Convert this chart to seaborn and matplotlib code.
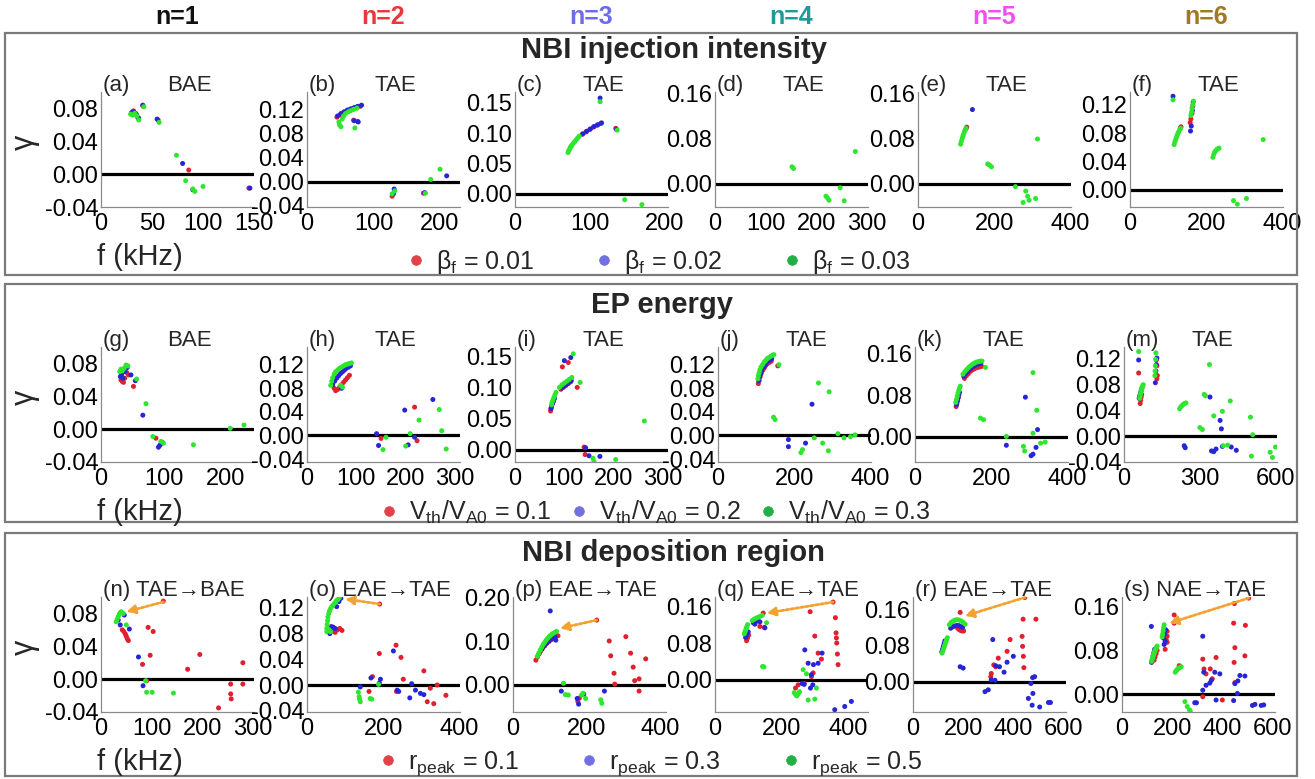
import matplotlib
matplotlib.use("Agg")
import matplotlib.pyplot as plt
import seaborn as sns
import pandas as pd
from matplotlib.patches import Rectangle
from matplotlib.lines import Line2D
from matplotlib.ticker import AutoMinorLocator, FormatStrFormatter

# ---------------- data (f in kHz, gamma) ----------------
# row 1 : NBI injection intensity
A_RED = ([30, 32, 34, 36, 41, 56, 86, 145], [0.075, 0.077, 0.074, 0.069, 0.083, 0.066, 0.005, -0.017])
A_BLUE = ([31, 33, 35, 37, 41, 55, 80, 90, 146], [0.076, 0.074, 0.072, 0.068, 0.084, 0.067, 0.013, -0.019, -0.017])
A_GREEN = ([29, 31, 33, 35, 37, 42, 57, 74, 83, 90, 92, 100],
           [0.073, 0.072, 0.074, 0.071, 0.066, 0.082, 0.063, 0.023, -0.008, -0.018, -0.021, -0.015])
B_RED = ([45, 50, 55, 60, 65, 70, 75, 80, 70, 76, 128, 175],
         [0.108, 0.112, 0.116, 0.119, 0.121, 0.122, 0.124, 0.126, 0.103, 0.101, -0.024, -0.019])
B_BLUE = ([46, 51, 56, 61, 66, 71, 76, 82, 71, 77, 130, 131, 177, 210],
          [0.110, 0.114, 0.117, 0.120, 0.122, 0.124, 0.126, 0.128, 0.102, 0.100, -0.020, -0.012, -0.018, 0.010])
B_GREEN = ([48, 49, 51, 53, 55, 58, 62, 66, 70, 75, 72, 128, 132, 178, 186, 200],
           [0.100, 0.095, 0.092, 0.105, 0.110, 0.114, 0.117, 0.119, 0.121, 0.123, 0.090, -0.020, -0.015, -0.019, 0.004, 0.021])
C_RED = ([90, 95, 100, 105, 110, 115, 135], [0.098, 0.102, 0.106, 0.110, 0.113, 0.116, 0.108])
C_BLUE = ([91, 96, 101, 106, 111, 116, 114, 136], [0.099, 0.103, 0.107, 0.111, 0.114, 0.117, 0.158, 0.106])
C_GREEN = ([71, 72, 73, 74, 75, 76, 78, 80, 82, 84, 86, 114, 137, 147, 170],
           [0.068, 0.071, 0.073, 0.076, 0.078, 0.080, 0.083, 0.086, 0.089, 0.092, 0.095, 0.152, 0.105, -0.010, -0.018])
D_RED = ([], [])
D_BLUE = ([], [])
D_GREEN = ([152, 155, 219, 222, 225, 247, 255, 277], [0.030, 0.027, -0.022, -0.025, -0.029, -0.007, -0.030, 0.057])
E_RED = ([126, 128], [0.097, 0.100])
E_BLUE = ([143], [0.131])
E_GREEN = ([112, 114, 116, 118, 120, 122, 124, 126, 183, 188, 193, 256, 283, 288, 276, 292, 309, 314],
           [0.070, 0.075, 0.080, 0.084, 0.088, 0.092, 0.095, 0.098, 0.035, 0.033, 0.030, -0.005, -0.013, -0.022,
            -0.033, -0.029, -0.026, 0.079])
F_RED = ([132, 134, 158, 160, 163, 165], [0.087, 0.089, 0.095, 0.100, 0.108, 0.118])
F_BLUE = ([113, 159, 161, 164, 166], [0.132, 0.083, 0.090, 0.112, 0.124])
F_GREEN = ([116, 118, 120, 122, 124, 126, 128, 131, 133, 113, 160, 162, 163, 165, 167, 218, 220, 222, 225, 228,
            231, 234, 272, 282, 306, 350],
           [0.064, 0.068, 0.071, 0.074, 0.077, 0.080, 0.082, 0.085, 0.087, 0.127, 0.105, 0.110, 0.115, 0.120, 0.125,
            0.046, 0.050, 0.053, 0.055, 0.057, 0.058, 0.059, -0.015, -0.020, -0.012, 0.071])

# row 2 : EP energy
G_RED = ([32, 34, 36, 38, 41, 44, 52, 88, 94], [0.060, 0.058, 0.057, 0.062, 0.069, 0.066, 0.052, -0.011, -0.020])
G_BLUE = ([31, 33, 35, 38, 42, 48, 55, 67, 92, 95, 98],
          [0.064, 0.066, 0.062, 0.070, 0.075, 0.066, 0.059, 0.017, -0.022, -0.019, -0.016])
G_GREEN = ([30, 32, 34, 37, 40, 43, 57, 72, 83, 96, 100, 148, 207, 229],
           [0.070, 0.073, 0.071, 0.074, 0.078, 0.077, 0.061, 0.031, -0.009, -0.015, -0.017, -0.019, 0.001, 0.005])
H_RED = ([55, 58, 62, 66, 70, 74, 78, 82, 86, 150, 218, 223],
         [0.080, 0.076, 0.078, 0.082, 0.086, 0.090, 0.094, 0.098, 0.102, -0.005, 0.048, -0.009])
H_BLUE = ([52, 56, 60, 64, 68, 72, 76, 80, 84, 88, 70, 141, 145, 198, 218, 205, 255],
          [0.086, 0.092, 0.097, 0.101, 0.105, 0.108, 0.111, 0.114, 0.116, 0.118, 0.080, 0.003, -0.017, 0.043,
           -0.003, -0.016, 0.061])
H_GREEN = ([48, 50, 52, 55, 58, 62, 66, 70, 74, 78, 82, 86, 90, 68, 72, 154, 160, 209, 227, 200, 268, 273, 282],
           [0.085, 0.092, 0.098, 0.104, 0.108, 0.111, 0.114, 0.116, 0.118, 0.120, 0.121, 0.122, 0.123, 0.085, 0.082,
            -0.024, -0.003, 0.003, 0.026, -0.018, 0.044, 0.008, -0.023])
I_RED = ([72, 73, 74, 76, 78, 93, 98, 103, 108, 113, 96, 108, 126, 140, 142],
         [0.062, 0.066, 0.070, 0.074, 0.078, 0.097, 0.100, 0.103, 0.106, 0.109, 0.133, 0.140, 0.100, 0.004, -0.008])
I_BLUE = ([73, 74, 76, 78, 80, 94, 99, 104, 109, 114, 100, 113, 143, 150, 172],
          [0.066, 0.070, 0.074, 0.078, 0.082, 0.099, 0.102, 0.105, 0.108, 0.111, 0.143, 0.148, 0.003, -0.010, -0.011])
I_GREEN = ([74, 75, 77, 79, 81, 83, 90, 95, 100, 105, 110, 115, 118, 132, 158, 160, 204, 262],
           [0.072, 0.076, 0.080, 0.084, 0.088, 0.092, 0.100, 0.104, 0.107, 0.110, 0.113, 0.116, 0.154, 0.108,
            -0.014, -0.019, -0.016, 0.046])
J_RED = ([106, 108, 111, 114, 118, 122, 126, 130, 135, 140, 157],
         [0.088, 0.093, 0.100, 0.106, 0.111, 0.115, 0.119, 0.122, 0.124, 0.126, 0.118])
J_BLUE = ([107, 109, 112, 115, 119, 123, 127, 131, 136, 141, 185, 185, 230, 247],
          [0.093, 0.098, 0.104, 0.110, 0.115, 0.119, 0.123, 0.126, 0.128, 0.130, -0.007, -0.019, -0.013, 0.053])
J_GREEN = ([105, 106, 108, 110, 113, 117, 121, 125, 129, 133, 138, 143, 147, 160, 146, 150, 218, 222, 253, 264,
            275, 292, 290, 315, 331, 348, 360],
           [0.096, 0.101, 0.106, 0.111, 0.116, 0.120, 0.124, 0.127, 0.130, 0.132, 0.134, 0.136, 0.137, 0.120,
            0.031, 0.027, -0.029, -0.024, -0.004, 0.089, -0.013, 0.074, -0.026, 0.003, -0.004, -0.002, 0.001])
K_RED = ([108, 110, 112, 114, 130, 135, 140, 145, 150, 155, 160, 165, 170, 175],
         [0.058, 0.064, 0.070, 0.076, 0.112, 0.117, 0.121, 0.125, 0.128, 0.130, 0.132, 0.133, 0.134, 0.135])
K_BLUE = ([109, 111, 113, 115, 117, 128, 133, 138, 143, 148, 153, 158, 163, 168, 173, 290, 240, 305, 310, 318, 322],
          [0.062, 0.068, 0.074, 0.080, 0.085, 0.116, 0.121, 0.125, 0.129, 0.132, 0.135, 0.137, 0.139, 0.140,
           0.141, 0.076, -0.016, -0.036, -0.033, -0.020, 0.014])
K_GREEN = ([107, 109, 111, 113, 115, 117, 119, 126, 131, 136, 141, 146, 151, 156, 161, 166, 171, 176, 185, 172,
            180, 310, 320, 310, 240, 285, 288, 330, 342],
           [0.066, 0.072, 0.078, 0.084, 0.089, 0.093, 0.097, 0.120, 0.125, 0.129, 0.133, 0.136, 0.139, 0.141,
            0.143, 0.144, 0.145, 0.145, 0.133, 0.036, 0.033, 0.123, 0.051, 0.007, 0.001, -0.018, -0.027, -0.012, -0.010])
M_RED = ([58, 64, 66, 68, 70, 128, 130, 132, 130], [0.097, 0.050, 0.055, 0.060, 0.064, 0.117, 0.108, 0.093, 0.088])
M_BLUE = ([58, 60, 62, 65, 68, 71, 124, 126, 128, 130, 238, 242, 346, 355, 364, 389, 424, 444, 340, 380, 385],
          [0.117, 0.058, 0.062, 0.066, 0.070, 0.074, 0.082, 0.100, 0.110, 0.120, -0.015, -0.018, -0.023, -0.024,
           -0.020, -0.016, -0.017, -0.022, 0.060, 0.024, 0.011])
M_GREEN = ([58, 62, 64, 66, 68, 70, 72, 74, 76, 122, 123, 124, 125, 126, 220, 225, 230, 235, 240, 245, 338, 317, 322,
            300, 310, 355, 389, 420, 500, 509, 392, 410, 504, 578, 587, 599],
           [0.130, 0.058, 0.062, 0.066, 0.069, 0.072, 0.075, 0.077, 0.079, 0.093, 0.100, 0.108, 0.118, 0.128,
            0.042, 0.045, 0.047, 0.049, 0.050, 0.051, 0.110, 0.064, 0.062, 0.013, 0.010, 0.031, 0.038, 0.054,
            0.029, 0.002, -0.015, -0.014, -0.031, -0.025, -0.033, -0.017])

# row 3 : NBI deposition region
N_RED = ([42, 45, 48, 50, 52, 54, 93, 103, 82, 97, 90, 171, 195, 232, 256, 256, 257, 280, 280, 123],
         [0.060, 0.058, 0.055, 0.052, 0.049, 0.047, 0.063, 0.058, 0.018, 0.029, -0.002, 0.012, 0.030, -0.035,
          -0.006, -0.018, -0.024, 0.020, -0.006, 0.095])
N_BLUE = ([34, 38, 46, 56, 74, 83], [0.072, 0.066, 0.078, 0.061, 0.027, -0.008])
N_GREEN = ([30, 32, 34, 36, 38, 40, 44, 50, 88, 90, 101, 143],
           [0.070, 0.073, 0.076, 0.079, 0.081, 0.082, 0.080, 0.066, -0.002, -0.016, -0.016, -0.017])
O_RED = ([68, 74, 80, 86, 92, 191, 163, 172, 190, 234, 247, 253, 235, 307, 316, 333, 324, 342, 365],
         [0.084, 0.082, 0.086, 0.088, 0.085, 0.126, -0.010, 0.013, 0.049, 0.062, 0.043, 0.009, -0.010, 0.022,
          -0.026, -0.029, -0.005, 0.000, -0.016])
O_BLUE = ([60, 64, 69, 74, 78, 84, 89, 140, 168, 190, 193, 227, 237, 241, 270, 275, 285, 298, 307],
          [0.080, 0.091, 0.090, 0.088, 0.122, 0.130, 0.135, -0.003, 0.011, 0.003, 0.009, 0.053, -0.008, -0.010,
           -0.020, 0.002, -0.008, -0.013, -0.015])
O_GREEN = ([52, 52, 53, 54, 55, 57, 59, 62, 65, 69, 73, 77, 81, 85, 58, 62, 135, 137, 140, 138, 166, 170, 188],
           [0.083, 0.088, 0.094, 0.100, 0.106, 0.111, 0.115, 0.119, 0.122, 0.125, 0.128, 0.131, 0.133, 0.136,
            0.086, 0.083, -0.011, -0.018, -0.026, -0.022, -0.021, -0.022, 0.001])
P_RED = ([62, 66, 70, 75, 80, 86, 92, 98, 104, 110, 116, 122, 227, 261, 265, 274, 276, 306, 319, 326, 330, 342,
          342, 360, 176, 180],
         [0.057, 0.064, 0.071, 0.078, 0.084, 0.090, 0.096, 0.100, 0.104, 0.108, 0.111, 0.113, 0.149, 0.101, 0.067,
          0.027, 0.002, 0.111, 0.073, 0.041, 0.010, 0.014, -0.014, 0.060, -0.038, -0.030])
P_BLUE = ([72, 78, 84, 90, 96, 102, 108, 114, 101, 116, 131, 174, 178, 192, 248],
          [0.074, 0.082, 0.089, 0.095, 0.100, 0.105, 0.108, 0.111, 0.170, 0.103, -0.014, -0.031, -0.044, -0.021, -0.014])
P_GREEN = ([66, 70, 74, 78, 82, 86, 90, 94, 98, 102, 106, 110, 114, 118, 137, 142, 150, 186, 190, 197, 238, 241],
           [0.066, 0.073, 0.080, 0.087, 0.093, 0.098, 0.103, 0.107, 0.111, 0.114, 0.117, 0.119, 0.121, 0.123,
            0.004, -0.022, -0.023, -0.023, -0.019, -0.031, -0.034, -0.042])
Q_RED = ([95, 98, 101, 145, 135, 148, 355, 286, 362, 364, 365, 366, 368, 370, 300, 310, 295, 290, 268, 250, 242, 320],
         [0.085, 0.091, 0.097, 0.145, 0.116, 0.114, 0.169, 0.148, 0.135, 0.102, 0.091, 0.080, 0.056, 0.033, 0.095,
          0.058, 0.015, 0.007, -0.008, -0.011, -0.018, 0.045])
Q_BLUE = ([92, 96, 100, 115, 120, 128, 135, 150, 270, 280, 296, 310, 322, 290, 294, 287, 262, 268, 360, 390, 410],
          [0.092, 0.098, 0.104, 0.124, 0.121, 0.128, 0.126, 0.113, 0.065, 0.036, 0.033, 0.036, 0.058, 0.011,
           -0.011, -0.018, -0.008, -0.010, -0.065, -0.058, -0.047])
Q_GREEN = ([88, 90, 92, 94, 96, 98, 112, 118, 124, 130, 136, 142, 155, 143, 147, 238, 242, 246, 250, 254, 280, 300,
            305, 275, 265],
           [0.100, 0.104, 0.108, 0.112, 0.116, 0.120, 0.129, 0.132, 0.134, 0.136, 0.138, 0.140, 0.124, 0.029, 0.028,
            -0.028, -0.032, -0.035, -0.031, -0.026, -0.044, -0.042, -0.018, 0.013, 0.022])
R_RED = ([178, 184, 190, 196, 202, 188, 446, 490, 439, 435, 437, 440, 442, 387, 375, 340, 322, 312, 310, 330],
         [0.118, 0.115, 0.113, 0.112, 0.112, 0.153, 0.186, 0.138, 0.138, 0.100, 0.078, 0.056, 0.031, 0.093, 0.067,
          0.052, 0.037, 0.018, 0.011, 0.033])
R_BLUE = ([115, 118, 121, 124, 127, 150, 158, 166, 174, 182, 190, 198, 188, 200, 318, 330, 345, 363, 400, 375, 287,
           300, 312, 327, 477, 485, 470, 460, 478, 475, 505, 540, 548],
          [0.066, 0.072, 0.078, 0.084, 0.090, 0.118, 0.121, 0.123, 0.124, 0.124, 0.122, 0.120, 0.033, 0.030, 0.093,
           0.035, 0.033, 0.021, 0.056, 0.043, -0.022, -0.018, 0.004, 0.003, 0.009, 0.011, -0.004, -0.037, -0.026,
           -0.052, -0.056, -0.046, -0.046])
R_GREEN = ([116, 119, 122, 125, 128, 131, 134, 137, 145, 152, 160, 168, 176, 184, 192, 200, 208],
           [0.063, 0.068, 0.073, 0.078, 0.083, 0.088, 0.093, 0.097, 0.126, 0.131, 0.134, 0.136, 0.137, 0.136,
            0.134, 0.131, 0.127])
S_RED = ([128, 132, 136, 140, 172, 176, 180, 180, 180, 208, 208, 228, 505, 322, 327, 335, 322, 360, 352, 375, 400,
          447, 450, 445, 448, 450, 490, 492],
         [0.062, 0.068, 0.074, 0.080, 0.082, 0.100, 0.106, 0.115, 0.095, 0.145, 0.130, 0.052, 0.176, 0.064, 0.046,
          0.037, -0.005, 0.028, 0.046, 0.067, -0.011, 0.058, 0.085, 0.130, 0.166, 0.021, 0.070, 0.126])
S_BLUE = ([117, 118, 121, 124, 127, 130, 165, 168, 170, 172, 174, 290, 297, 322, 335, 322, 326, 350, 356, 370, 390,
           375, 445, 450, 462, 470, 460, 490, 520, 530, 555, 565],
          [0.124, 0.058, 0.064, 0.070, 0.076, 0.082, 0.103, 0.091, 0.110, 0.097, 0.118, -0.016, -0.016, 0.007, 0.016,
           0.106, 0.040, 0.020, 0.025, 0.040, 0.037, -0.011, -0.012, 0.019, 0.024, 0.034, 0.001, 0.033, -0.021,
           -0.019, -0.021, -0.020])
S_GREEN = ([118, 120, 122, 124, 126, 128, 130, 132, 134, 136, 138, 140, 160, 162, 164, 166, 168, 212, 216, 220, 224,
            228, 232, 236, 251, 260, 269, 272],
           [0.060, 0.063, 0.066, 0.069, 0.072, 0.075, 0.078, 0.080, 0.082, 0.084, 0.086, 0.088, 0.105, 0.110, 0.116,
            0.122, 0.127, 0.040, 0.043, 0.045, 0.047, 0.048, 0.049, 0.050, -0.014, -0.023, -0.029, -0.031])

PANEL_DATA = [
    [A_RED, A_BLUE, A_GREEN], [B_RED, B_BLUE, B_GREEN], [C_RED, C_BLUE, C_GREEN],
    [D_RED, D_BLUE, D_GREEN], [E_RED, E_BLUE, E_GREEN], [F_RED, F_BLUE, F_GREEN],
    [G_RED, G_BLUE, G_GREEN], [H_RED, H_BLUE, H_GREEN], [I_RED, I_BLUE, I_GREEN],
    [J_RED, J_BLUE, J_GREEN], [K_RED, K_BLUE, K_GREEN], [M_RED, M_BLUE, M_GREEN],
    [N_RED, N_BLUE, N_GREEN], [O_RED, O_BLUE, O_GREEN], [P_RED, P_BLUE, P_GREEN],
    [Q_RED, Q_BLUE, Q_GREEN], [R_RED, R_BLUE, R_GREEN], [S_RED, S_BLUE, S_GREEN],
]

PANEL_TAGS = ["(a)", "(b)", "(c)", "(d)", "(e)", "(f)", "(g)", "(h)", "(i)", "(j)", "(k)", "(m)",
              "(n)", "(o)", "(p)", "(q)", "(r)", "(s)"]
MODES = ["BAE", "TAE", "TAE", "TAE", "TAE", "TAE", "BAE", "TAE", "TAE", "TAE", "TAE", "TAE",
         "TAE→BAE", "EAE→TAE", "EAE→TAE", "EAE→TAE", "EAE→TAE", "NAE→TAE"]

XLIMS = [(0, 150), (0, 230), (0, 205), (0, 302), (0, 402), (0, 402),
         (0, 245), (0, 310), (0, 310), (0, 402), (0, 402), (0, 605),
         (0, 302), (0, 402), (0, 415), (0, 460), (0, 610), (0, 610)]
YLIMS = [(-0.04, 0.10), (-0.042, 0.15), (-0.022, 0.168), (-0.041, 0.162), (-0.041, 0.162), (-0.024, 0.138),
         (-0.04, 0.10), (-0.045, 0.15), (-0.02, 0.165), (-0.045, 0.15), (-0.048, 0.172), (-0.04, 0.137),
         (-0.04, 0.10), (-0.042, 0.137), (-0.062, 0.202), (-0.07, 0.18), (-0.067, 0.187), (-0.033, 0.178)]
XTICKS = [[0, 50, 100, 150], [0, 100, 200], [0, 100, 200], [0, 100, 200, 300], [0, 200, 400], [0, 200, 400],
          [0, 100, 200], [0, 100, 200, 300], [0, 100, 200, 300], [0, 200, 400], [0, 200, 400], [0, 300, 600],
          [0, 100, 200, 300], [0, 200, 400], [0, 200, 400], [0, 200, 400], [0, 200, 400, 600], [0, 200, 400, 600]]
YT_A = [-0.04, 0.0, 0.04, 0.08]
YT_B = [-0.04, 0.0, 0.04, 0.08, 0.12]
YT_C = [0.0, 0.05, 0.10, 0.15]
YT_D = [0.0, 0.08, 0.16]
YT_F = [0.0, 0.04, 0.08, 0.12]
YT_P = [0.0, 0.10, 0.20]
YTICKS = [YT_A, YT_B, YT_C, YT_D, YT_D, YT_F,
          YT_A, YT_B, YT_C, YT_B, YT_D, YT_B,
          YT_A, YT_B, YT_P, YT_D, YT_D, YT_D]

# arrows in row 3 (start -> end), data coordinates
ARROW_START = [(123, 0.094), (191, 0.126), (227, 0.149), (355, 0.169), (446, 0.186), (505, 0.176)]
ARROW_END = [(50, 0.082), (100, 0.134), (127, 0.130), (155, 0.145), (206, 0.145), (188, 0.130)]

SECTION_TITLES = ["NBI injection intensity", "EP energy", "NBI deposition region"]
COLUMN_HEADERS = ["n=1", "n=2", "n=3", "n=4", "n=5", "n=6"]
HEADER_COLORS = ["#111111", "#e8383c", "#6c6ce8", "#1f9a96", "#f04ef0", "#a07a22"]
SERIES = ["s1", "s2", "s3"]
LEGEND_LABELS = [
    ["β$_\\mathrm{f}$ = 0.01", "β$_\\mathrm{f}$ = 0.02", "β$_\\mathrm{f}$ = 0.03"],
    ["V$_\\mathrm{th}$/V$_\\mathrm{A0}$ = 0.1", "V$_\\mathrm{th}$/V$_\\mathrm{A0}$ = 0.2",
     "V$_\\mathrm{th}$/V$_\\mathrm{A0}$ = 0.3"],
    ["r$_\\mathrm{peak}$ = 0.1", "r$_\\mathrm{peak}$ = 0.3", "r$_\\mathrm{peak}$ = 0.5"],
]

# ---------------- style ----------------
sns.set_style("white")
plt.rcParams["font.family"] = ["Liberation Sans", "DejaVu Sans"]
plt.rcParams["mathtext.fontset"] = "custom"
plt.rcParams["mathtext.rm"] = "Liberation Sans"
plt.rcParams["mathtext.it"] = "Liberation Sans:italic"
plt.rcParams["mathtext.bf"] = "Liberation Sans:bold"

POINT_COLORS = ["#e0202e", "#2626d6", "#2ee62e"]
LEGEND_COLORS = ["#e0424a", "#7070e0", "#22b044"]
AXIS_GRAY = "#8a8a8a"

W, H = 1315, 779
fig = plt.figure(figsize=(W / 100, H / 100), dpi=100)

ROW_LEFTS = [[101, 307, 515, 715, 918, 1130],
             [101, 307, 515, 718, 915, 1124],
             [101, 307, 513, 715, 913, 1122]]
ROW_BOTTOM = [207, 462, 712]
AX_W, AX_H = 153, 115
BOXES = [(33, 275), (284, 522), (533, 776)]
TITLE_Y = [50, 305, 553]
TITLE_X = [674, 662, 673]
LEG_Y = [262, 512, 764]
LEG_X = [658, 655, 650]
LEG_SPACING = [2.4, 0.7, 2.4]


def fx(px):
    return px / W


def fy(py):
    return 1 - py / H


palette = dict(zip(SERIES, POINT_COLORS))
for i, series in enumerate(PANEL_DATA):
    row, col = divmod(i, 6)
    left = ROW_LEFTS[row][col]
    bottom = ROW_BOTTOM[row]
    ax = fig.add_axes([fx(left), fy(bottom), AX_W / W, AX_H / H])
    frames = []
    for name, (fv, gv) in zip(SERIES, series):
        frames.append(pd.DataFrame({"f": fv, "gamma": gv, "series": [name] * len(fv)}))
    df = pd.concat(frames, ignore_index=True)
    ax.axhline(0, color="black", lw=2.3, zorder=1)
    sns.scatterplot(data=df, x="f", y="gamma", hue="series", hue_order=SERIES, palette=palette,
                    s=13, linewidth=0, legend=False, ax=ax, zorder=3)
    ax.set_xlabel("")
    ax.set_ylabel("")
    ax.set_xlim(*XLIMS[i])
    ax.set_ylim(*YLIMS[i])
    ax.set_xticks(XTICKS[i])
    ax.set_yticks(YTICKS[i])
    ax.yaxis.set_major_formatter(FormatStrFormatter("%.2f"))
    ax.xaxis.set_major_formatter(FormatStrFormatter("%d"))
    ax.xaxis.set_minor_locator(AutoMinorLocator(2))
    ax.yaxis.set_minor_locator(AutoMinorLocator(2))
    for sp in ["top", "right"]:
        ax.spines[sp].set_visible(False)
    for sp in ["left", "bottom"]:
        ax.spines[sp].set_color(AXIS_GRAY)
        ax.spines[sp].set_linewidth(0.9)
    ax.tick_params(which="both", direction="in", color=AXIS_GRAY, width=0.8, labelsize=17,
                   labelcolor="black")
    ax.tick_params(which="major", length=3)
    ax.tick_params(which="minor", length=2)
    ax.tick_params(axis="y", pad=2)
    ax.tick_params(axis="x", pad=4)
    ax.patch.set_alpha(0)
    if row < 2:
        ax.text(0.01, 1.06, PANEL_TAGS[i], transform=ax.transAxes, ha="left", va="center", fontsize=16)
        ax.text(0.58, 1.06, MODES[i], transform=ax.transAxes, ha="center", va="center", fontsize=16)
    else:
        ax.text(0.01, 1.06, PANEL_TAGS[i] + " " + MODES[i], transform=ax.transAxes, ha="left",
                va="center", fontsize=16)
        ax.annotate("", xy=ARROW_END[col], xytext=ARROW_START[col], xycoords="data",
                    arrowprops=dict(arrowstyle="-|>,head_length=0.5,head_width=0.25", color="#f2a230",
                                    lw=2.0, linestyle=(0, (1, 0.8)), shrinkA=0, shrinkB=0),
                    zorder=4)

# boxes, titles, axis labels, legends
for r in range(3):
    top, bot = BOXES[r]
    fig.add_artist(Rectangle((fx(5), fy(bot)), (1297 - 5) / W, (bot - top) / H, transform=fig.transFigure,
                             fill=False, edgecolor="#7a7a7a", lw=1.6))
    fig.text(fx(TITLE_X[r]), fy(TITLE_Y[r]), SECTION_TITLES[r], ha="center", va="center", fontsize=21,
             fontweight="bold")
    fig.text(fx(25), fy(ROW_BOTTOM[r] - 65), "γ", rotation=90, ha="center", va="center", fontsize=22)
    fig.text(fx(140), fy(ROW_BOTTOM[r] + 50), "f (kHz)", ha="center", va="center", fontsize=21)
    handles = [Line2D([], [], linestyle="", marker="o", markersize=7, markerfacecolor=c,
                      markeredgecolor=c, markeredgewidth=0.5) for c in LEGEND_COLORS]
    fig.legend(handles, LEGEND_LABELS[r], loc="center", bbox_to_anchor=(fx(LEG_X[r]), fy(LEG_Y[r])),
               ncol=3, frameon=False, fontsize=18, handlelength=0.8, handletextpad=0.4,
               columnspacing=LEG_SPACING[r], borderpad=0, borderaxespad=0)

for c in range(6):
    cx = ROW_LEFTS[0][c] + AX_W / 2
    fig.text(fx(cx), fy(17), COLUMN_HEADERS[c], ha="center", va="center", fontsize=18, fontweight="bold",
             color=HEADER_COLORS[c])

fig.savefig("out.png", dpi=100)
